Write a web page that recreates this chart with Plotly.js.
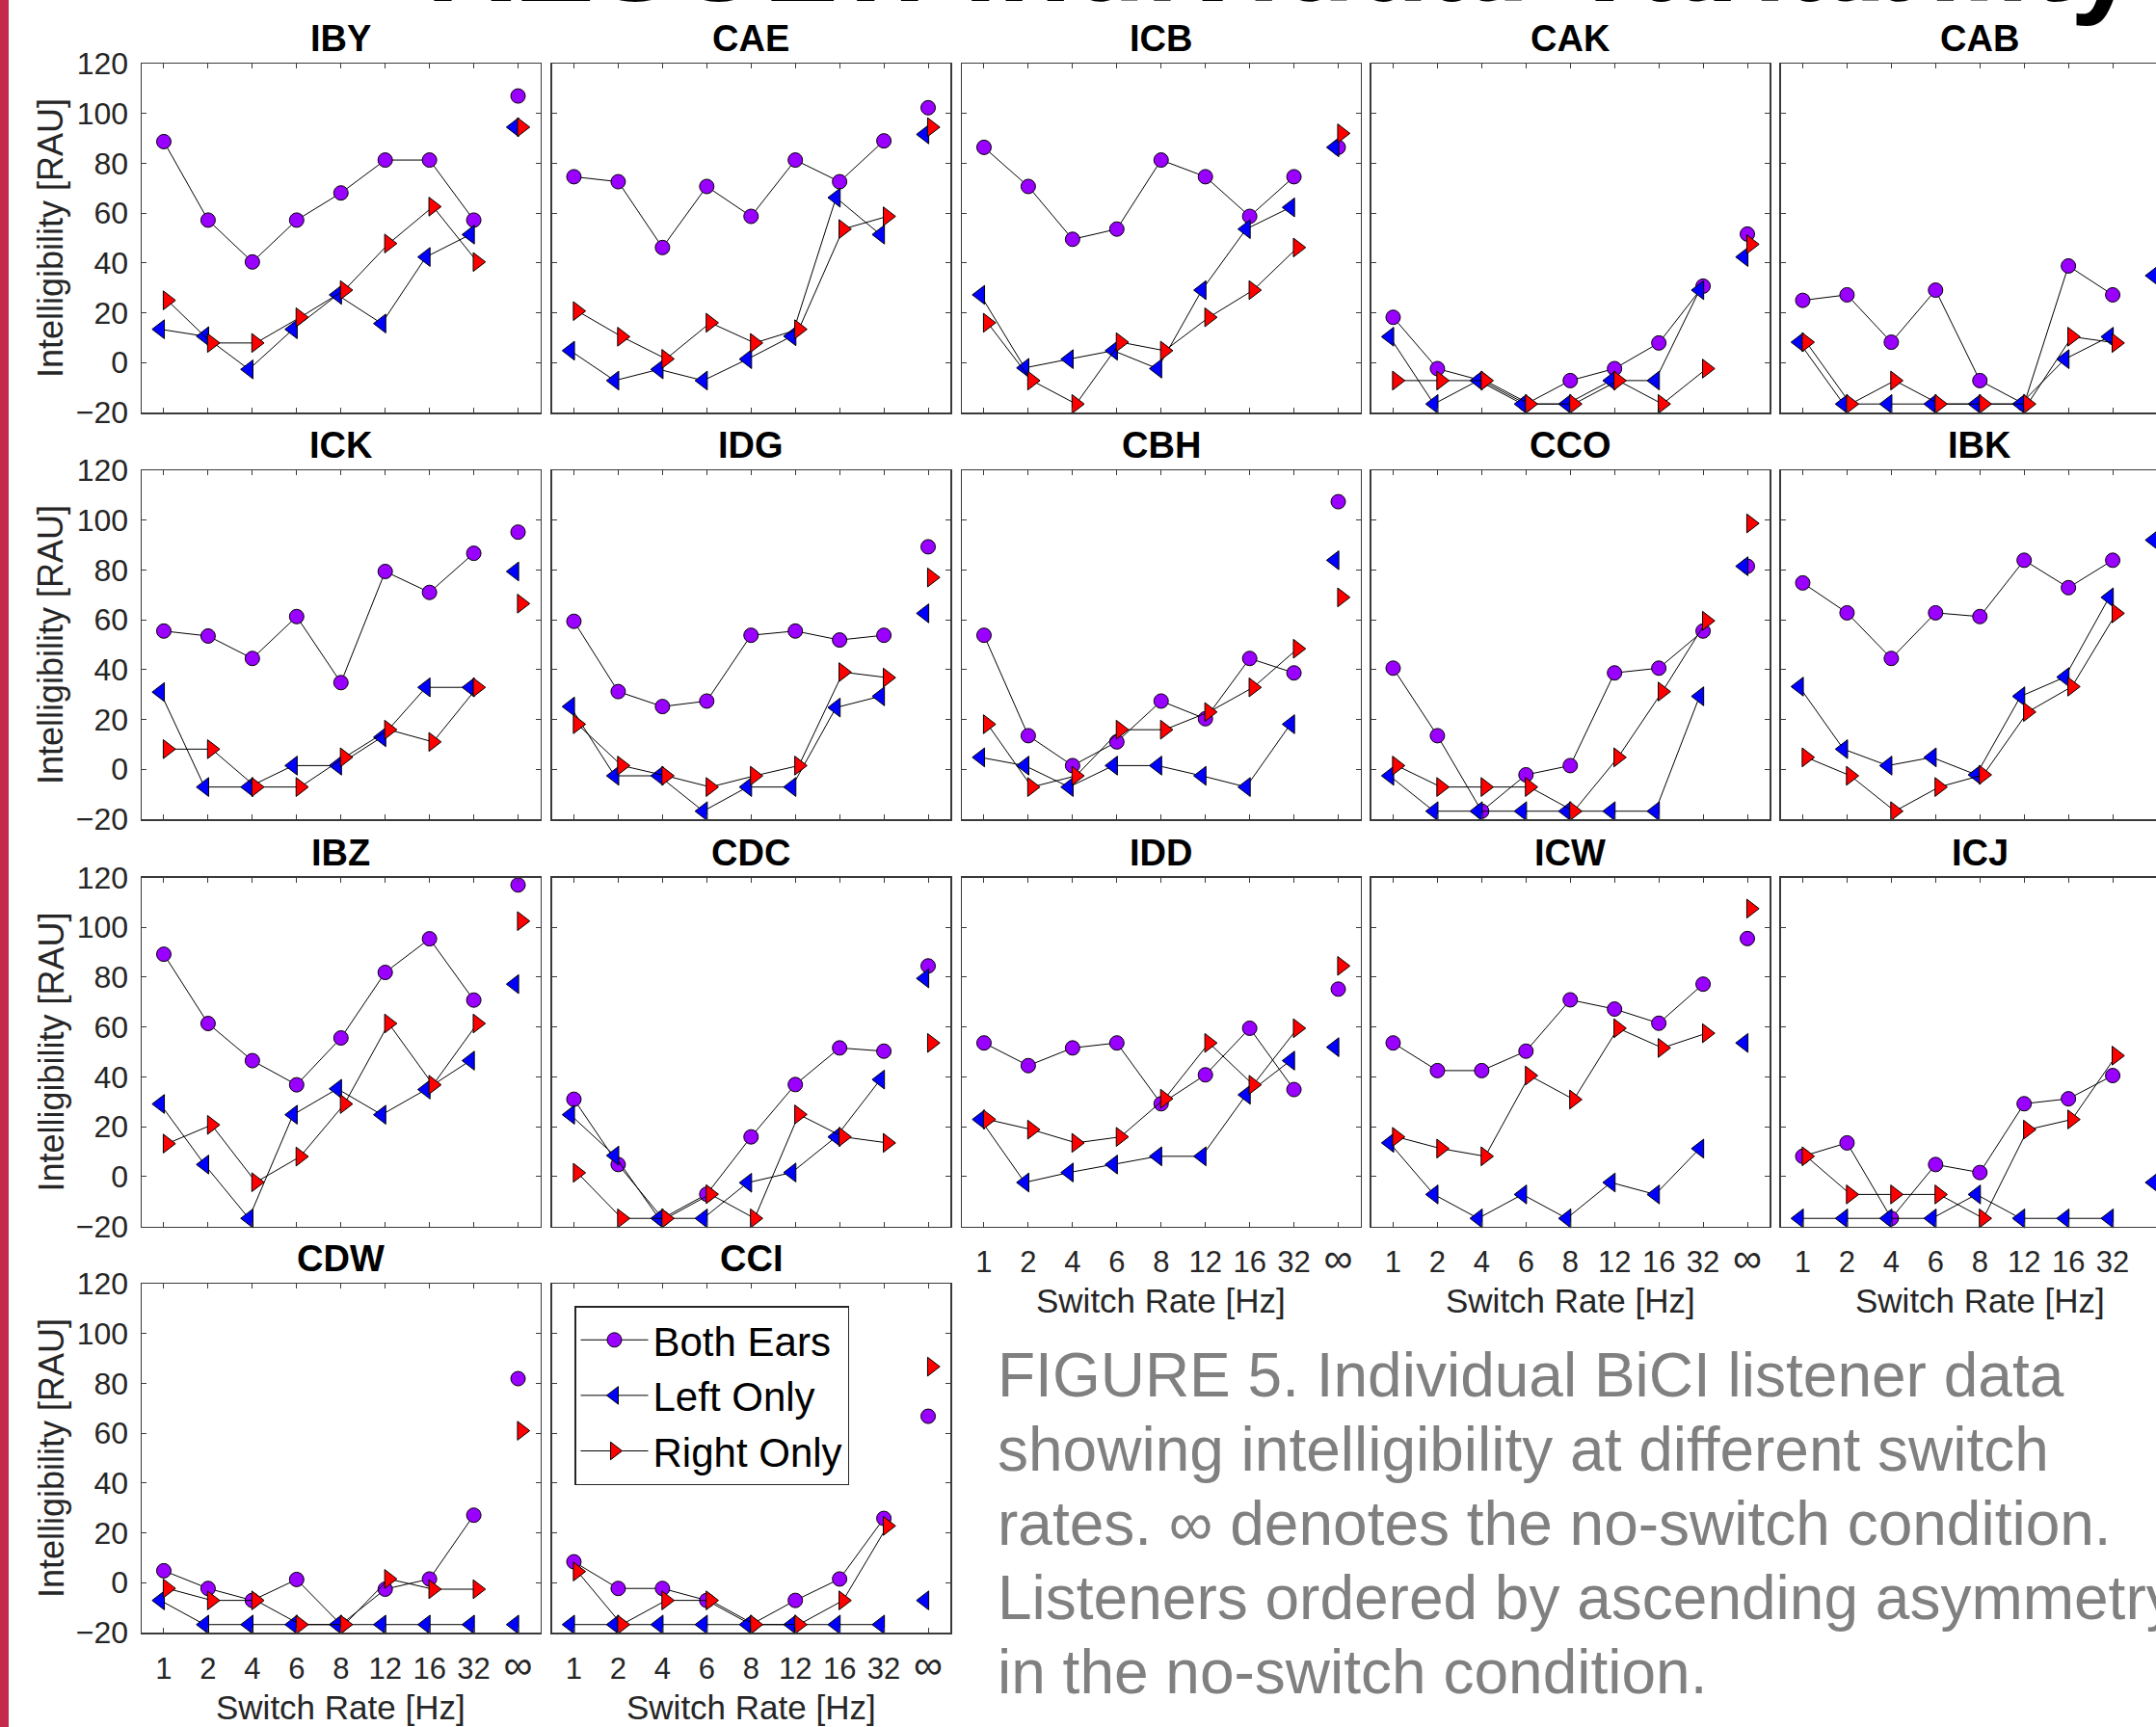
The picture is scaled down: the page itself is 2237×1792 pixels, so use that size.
<!DOCTYPE html>
<html><head><meta charset="utf-8">
<script src="https://cdn.plot.ly/plotly-3.0.1.min.js"></script>
<style>html,body{margin:0;padding:0;background:#fff;overflow:hidden}</style>
</head><body>
<div id="chart" style="width:2237px;height:1792px"></div>
<script>
// ---------------- DATA ----------------
const rateLabels = ['1','2','4','6','8','12','16','32','∞'];
const seriesNames = ['Both Ears','Left Only','Right Only'];
const listeners = ['IBY','CAE','ICB','CAK','CAB','ICK','IDG','CBH','CCO','IBK','IBZ','CDC','IDD','ICW','ICJ','CDW','CCI'];

const IBY_both  = [88.7, 57.2, 40.4, 57.2, 68.1, 81.3, 81.3, 57.2, 107.0];
const IBY_left  = [13.4, 10.6, -2.7, 13.4, 27.2, 15.7, 42.4, 51.4, 94.5];
const IBY_right = [25.0, 7.9, 7.9, 18.2, 29.1, 47.8, 62.6, 40.4, 94.5];

const CAE_both  = [74.6, 72.6, 46.2, 70.7, 58.7, 81.3, 72.6, 89.0, 102.3];
const CAE_left  = [4.8, -7.2, -2.7, -7.2, 1.4, 10.6, 66.2, 51.4, 91.6];
const CAE_right = [20.7, 10.4, 1.5, 16.0, 7.9, 13.4, 53.6, 58.7, 94.5];

const ICB_both  = [86.4, 70.7, 49.5, 53.6, 81.3, 74.6, 58.7, 74.6, 86.4];
const ICB_left  = [27.2, -2.1, 1.4, 4.8, -2.4, 29.1, 53.6, 62.3, 86.4];
const ICB_right = [16.0, -7.2, -16.6, 8.2, 4.8, 18.2, 29.1, 46.2, 92.0];

const CAK_both  = [18.2, -2.4, -7.2, -16.6, -7.2, -2.4, 7.9, 30.7, 51.6];
const CAK_left  = [10.4, -16.6, -7.2, -16.6, -16.6, -7.2, -7.2, 29.1, 42.4];
const CAK_right = [-7.2, -7.2, -7.2, -16.6, -16.6, -7.2, -16.6, -2.4, 47.5];

const CAB_both  = [25.0, 27.2, 8.2, 29.1, -7.2, -16.6, 38.8, 27.2, 72.6];
const CAB_left  = [8.2, -16.6, -16.6, -16.6, -16.6, -16.6, 1.4, 10.4, 34.9];
const CAB_right = [8.2, -16.6, -7.2, -16.6, -16.6, -16.6, 10.4, 7.9, 47.5];

const ICK_both  = [55.5, 53.5, 44.5, 61.3, 34.8, 79.4, 71.0, 86.7, 95.2];
const ICK_left  = [31.0, -7.1, -7.1, 1.5, 1.5, 12.9, 32.9, 32.9, 79.4];
const ICK_right = [8.1, 8.1, -7.1, -7.1, 4.8, 15.9, 11.0, 32.9, 66.5];

const IDG_both  = [59.4, 31.2, 25.2, 27.4, 53.8, 55.5, 51.9, 53.8, 89.3];
const IDG_left  = [25.2, -2.6, -2.6, -16.8, -7.1, -7.1, 24.8, 29.3, 62.6];
const IDG_right = [18.1, 1.5, -2.6, -7.1, -2.6, 1.5, 39.0, 36.8, 77.0];

const CBH_both  = [53.8, 13.5, 1.5, 11.0, 27.4, 20.3, 44.5, 38.7, 107.4];
const CBH_left  = [4.8, 1.5, -7.1, 1.5, 1.5, -2.6, -7.1, 18.1, 83.9];
const CBH_right = [18.1, -7.1, -2.6, 15.9, 15.9, 23.0, 32.9, 48.4, 69.0];

const CCO_both  = [40.6, 13.5, -16.8, -2.2, 1.5, 38.7, 40.6, 55.5, 81.5];
const CCO_left  = [-2.6, -16.8, -16.8, -16.8, -16.8, -16.8, -16.8, 29.3, 81.5];
const CCO_right = [1.5, -7.1, -7.1, -7.1, -16.8, 4.8, 31.2, 59.6, 98.7];

const IBK_both  = [74.8, 62.8, 44.5, 62.8, 61.3, 83.9, 72.9, 83.9, 89.0];
const IBK_left  = [33.2, 8.1, 1.5, 4.8, -2.2, 29.3, 37.0, 69.0, 92.0];
const IBK_right = [4.8, -2.6, -16.8, -7.1, -2.2, 23.0, 33.2, 62.6, 60.6];

const IBZ_both  = [89.2, 61.4, 46.5, 36.8, 55.6, 81.9, 95.4, 70.8, 117.0];
const IBZ_left  = [29.1, 4.8, -16.8, 24.8, 35.2, 24.8, 34.9, 46.5, 77.2];
const IBZ_right = [13.2, 20.7, -2.3, 8.0, 29.1, 61.4, 36.8, 61.4, 102.5];

const CDC_both  = [31.0, 4.8, -16.8, -7.1, 15.9, 36.9, 51.6, 50.3, 84.5];
const CDC_left  = [24.8, 8.4, -16.8, -16.8, -2.5, 1.6, 15.9, 38.9, 79.5];
const CDC_right = [1.5, -16.8, -16.8, -7.1, -16.8, 24.9, 15.9, 13.5, 53.6];

const IDD_both  = [53.6, 44.5, 51.6, 53.6, 29.2, 40.8, 59.5, 34.9, 75.2];
const IDD_left  = [22.9, -2.4, 1.6, 4.8, 8.1, 8.1, 32.8, 46.5, 51.9];
const IDD_right = [22.9, 18.8, 13.5, 15.9, 31.2, 53.6, 36.8, 59.5, 84.5];

const ICW_both  = [53.6, 42.5, 42.5, 50.3, 70.9, 67.2, 61.5, 77.2, 95.5];
const ICW_left  = [13.5, -7.2, -16.8, -7.2, -16.8, -2.4, -7.2, 11.2, 53.6];
const ICW_right = [15.9, 11.2, 8.1, 40.5, 30.9, 59.5, 51.6, 57.5, 107.5];

const ICJ_both  = [8.1, 13.5, -16.8, 4.8, 1.6, 29.2, 31.2, 40.5, 98.5];
const ICJ_left  = [-16.8, -16.8, -16.8, -16.8, -7.2, -16.8, -16.8, -16.8, -2.4];
const ICJ_right = [8.1, -7.2, -7.2, -7.2, -16.8, 18.8, 22.9, 48.5, 58.0];

const CDW_both  = [4.8, -2.3, -7.1, 1.3, -16.8, -2.6, 1.5, 27.1, 81.9];
const CDW_left  = [-7.1, -16.8, -16.8, -16.8, -16.8, -16.8, -16.8, -16.8, -16.8];
const CDW_right = [-2.3, -7.1, -7.1, -16.8, -16.8, 1.5, -2.6, -2.6, 61.0];

const CCI_both  = [8.4, -2.3, -2.3, -7.1, -16.8, -7.1, 1.5, 25.8, 66.8];
const CCI_left  = [-16.8, -16.8, -16.8, -16.8, -16.8, -16.8, -16.8, -16.8, -7.1];
const CCI_right = [4.5, -16.8, -7.1, -7.1, -16.8, -16.8, -7.1, 22.8, 86.7];

const yTickVals = [-20, 0, 20, 40, 60, 80, 100, 120];
const captionLines = [
  'FIGURE 5. Individual BiCI listener data',
  'showing intelligibility at different switch',
  'rates. \u221e denotes the no-switch condition.',
  'Listeners ordered by ascending asymmetry',
  'in the no-switch condition.'
];
const mainTitle = 'RESULT: Individual Variability';

const seriesByListener = {
  IBY:[IBY_both,IBY_left,IBY_right], CAE:[CAE_both,CAE_left,CAE_right], ICB:[ICB_both,ICB_left,ICB_right],
  CAK:[CAK_both,CAK_left,CAK_right], CAB:[CAB_both,CAB_left,CAB_right], ICK:[ICK_both,ICK_left,ICK_right],
  IDG:[IDG_both,IDG_left,IDG_right], CBH:[CBH_both,CBH_left,CBH_right], CCO:[CCO_both,CCO_left,CCO_right],
  IBK:[IBK_both,IBK_left,IBK_right], IBZ:[IBZ_both,IBZ_left,IBZ_right], CDC:[CDC_both,CDC_left,CDC_right],
  IDD:[IDD_both,IDD_left,IDD_right], ICW:[ICW_both,ICW_left,ICW_right], ICJ:[ICJ_both,ICJ_left,ICJ_right],
  CDW:[CDW_both,CDW_left,CDW_right], CCI:[CCI_both,CCI_left,CCI_right]
};

// ---------------- LAYOUT / STYLE ----------------
const W = 2237, H = 1792;
const colLeft = [147, 572.5, 998, 1422.5, 1847.5];
const rowTop = [66, 488, 910.5, 1332];
const PW = 413.5, PH = 362;
const FONT = 'Liberation Sans, Arial, Helvetica, sans-serif';
const AXC = '#262626';
const BOXC = '#3a3a3a';
const bottomLabelled = [12, 13, 14, 15, 16];
const tickText = rateLabels.map(t => t === '∞' ? '<span style="font-size:42px">∞</span>' : t);

const styles = [
  {symbol:'circle', size:15, color:'#9900ff', off:0},
  {symbol:'triangle-left', size:17, color:'#0000ff', off:-0.08},
  {symbol:'triangle-right', size:17, color:'#ff0000', off:0.08}
];

const traces = [];
const layout = {
  width: W, height: H,
  margin: {l:0, r:0, t:0, b:0},
  paper_bgcolor: '#ffffff', plot_bgcolor: '#ffffff',
  font: {family: FONT, color: AXC},
  showlegend: true,
  legend: {
    x: 596/W, y: 1 - 1355/H, xanchor: 'left', yanchor: 'top',
    bgcolor: '#ffffff', bordercolor: AXC, borderwidth: 1.5,
    font: {family: FONT, size: 42, color: '#000'},
    tracegroupgap: 0, itemwidth: 70
  },
  annotations: [], shapes: []
};

listeners.forEach((name, i) => {
  const row = Math.floor(i / 5), col = i % 5;
  const sfx = i === 0 ? '' : String(i + 1);
  const left = colLeft[col], right = left + PW;
  const top = rowTop[row], bottom = top + PH;
  const xEnd = Math.min(right, W);
  const rangeEnd = 0.5 + 9 * (xEnd - left) / PW;
  const isLastCol = col === 4;

  layout['xaxis' + sfx] = {
    domain: [left / W, xEnd / W], range: [0.5, rangeEnd], anchor: 'y' + sfx,
    tickvals: [1,2,3,4,5,6,7,8,9], ticktext: tickText,
    showticklabels: bottomLabelled.includes(i),
    tickfont: {family: FONT, size: 31, color: AXC}, ticklabelstandoff: 9,
    ticks: 'inside', ticklen: 5, tickwidth: 1, tickcolor: BOXC,
    showline: true, linecolor: BOXC, linewidth: 1.5, mirror: 'allticks',
    showgrid: false, zeroline: false, fixedrange: true
  };
  layout['yaxis' + sfx] = {
    domain: [1 - bottom / H, 1 - top / H], range: [-20, 120], anchor: 'x' + sfx,
    tickvals: yTickVals, showticklabels: col === 0,
    tickfont: {family: FONT, size: 32, color: AXC}, ticklabelstandoff: 6,
    ticks: 'inside', ticklen: 5, tickwidth: 1, tickcolor: BOXC,
    showline: true, linecolor: BOXC, linewidth: 1.5, mirror: isLastCol ? false : 'allticks',
    showgrid: false, zeroline: false, fixedrange: true
  };

  // panel title
  layout.annotations.push({
    text: '<b>' + name + '</b>', xref: 'paper', yref: 'paper',
    x: (left + PW / 2) / W, y: 1 - (top - 26) / H, xanchor: 'center', yanchor: 'middle',
    showarrow: false, font: {family: FONT, size: 38, color: '#000'}
  });
  if (col === 0) {
    layout.annotations.push({
      text: 'Intelligibility [RAU]', xref: 'paper', yref: 'paper', textangle: -90,
      x: 53 / W, y: 1 - (top + PH / 2) / H, xanchor: 'center', yanchor: 'middle',
      showarrow: false, font: {family: FONT, size: 36, color: AXC}
    });
  }
  if (bottomLabelled.includes(i)) {
    layout.annotations.push({
      text: 'Switch Rate [Hz]', xref: 'paper', yref: 'paper',
      x: (left + PW / 2) / W, y: 1 - (bottom + 77) / H, xanchor: 'center', yanchor: 'middle',
      showarrow: false, font: {family: FONT, size: 35, color: AXC}
    });
  }

  const series = seriesByListener[name];
  series.forEach((vals, s) => {
    const st = styles[s];
    const xs = rateLabels.map((_, k) => k + 1 + st.off);
    const mk = {symbol: st.symbol, size: st.size, color: st.color, line: {color: '#000', width: 1}};
    traces.push({
      type: 'scatter', mode: 'lines+markers', name: seriesNames[s], legendgroup: seriesNames[s],
      showlegend: i === 0, x: xs.slice(0, 8), y: vals.slice(0, 8),
      xaxis: 'x' + sfx, yaxis: 'y' + sfx, cliponaxis: false,
      line: {color: '#000', width: 1}, marker: mk, hoverinfo: 'skip'
    });
    traces.push({
      type: 'scatter', mode: 'markers', name: seriesNames[s] + ' (no switch)', legendgroup: seriesNames[s],
      showlegend: false, x: xs.slice(8), y: vals.slice(8),
      xaxis: 'x' + sfx, yaxis: 'y' + sfx, cliponaxis: false, marker: mk, hoverinfo: 'skip'
    });
  });
});

// caption
captionLines.forEach((t, k) => {
  layout.annotations.push({
    text: t, xref: 'paper', yref: 'paper', x: 1033 / W, y: 1 - (1427 + 77 * k) / H,
    xanchor: 'left', yanchor: 'middle', showarrow: false,
    font: {family: FONT, size: 64, color: '#808080'}
  });
});

// cut-off poster heading
layout.annotations.push({
  text: '<b>' + mainTitle + '</b>', xref: 'paper', yref: 'paper', x: 440 / W, y: 1 - 30 / H,
  xanchor: 'left', yanchor: 'bottom', showarrow: false,
  font: {family: FONT, size: 126, color: '#000'}
});

// left accent bar
layout.shapes.push({type: 'rect', xref: 'paper', yref: 'paper', x0: 0, x1: 9 / W, y0: 0, y1: 1,
  fillcolor: '#c62a4b', line: {width: 0}, layer: 'above'});

Plotly.newPlot('chart', traces, layout, {staticPlot: true, displayModeBar: false});
</script>
</body></html>
